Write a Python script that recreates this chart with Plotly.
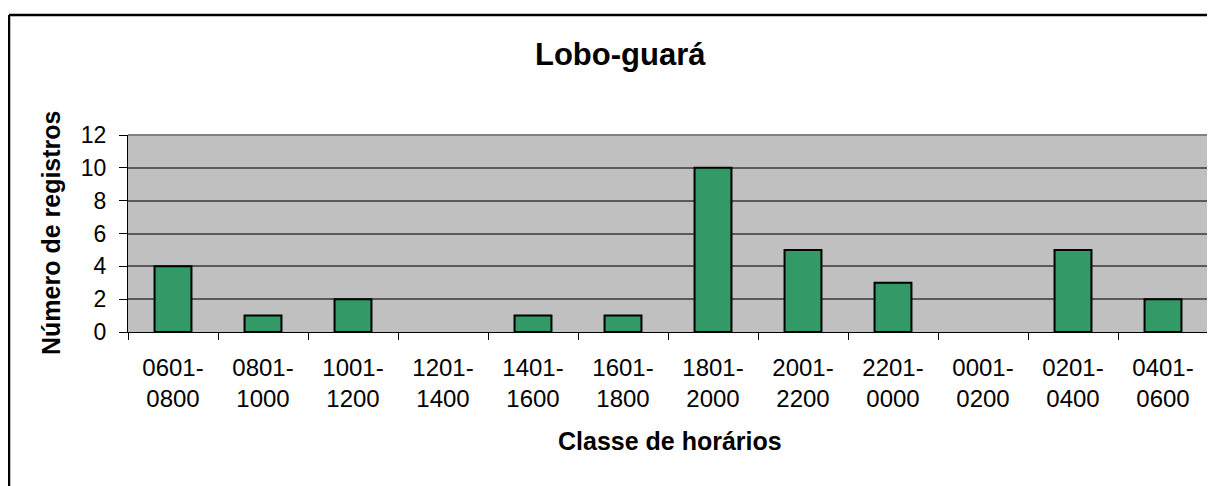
import plotly.graph_objects as go

categories = ["0601-<br>0800", "0801-<br>1000", "1001-<br>1200", "1201-<br>1400",
              "1401-<br>1600", "1601-<br>1800", "1801-<br>2000", "2001-<br>2200",
              "2201-<br>0000", "0001-<br>0200", "0201-<br>0400", "0401-<br>0600"]
registros = [4, 1, 2, 0, 1, 1, 10, 5, 3, 0, 5, 2]
y_ticks = [0, 2, 4, 6, 8, 10, 12]

OFF = 8  # page body margin
W, H = 1215 - OFF, 486 - OFF
# plot area in page coordinates
PL, PR, PT, PB = 128, 1208, 135, 332
L, R, T, B = PL - OFF, PR - OFF, PT - OFF, PB - OFF

px = lambda v: (v - PL) / (PR - PL)   # page x -> paper
py = lambda v: (PB - v) / (PB - PT)   # page y -> paper

fig = go.Figure(go.Bar(
    x=categories, y=registros,
    marker=dict(color="#339966",
                line=dict(color="black", width=[2 if v > 0 else 0 for v in registros])),
    width=0.41,
))

FONT = "Arial, Liberation Sans, sans-serif"
fig.update_layout(
    width=W, height=H,
    margin=dict(l=L, r=W - R, t=T, b=H - B),
    paper_bgcolor="white", plot_bgcolor="#C0C0C0",
    font=dict(family=FONT, color="black", size=24),
    showlegend=False,
    xaxis=dict(
        tickson="boundaries", ticks="outside", ticklen=7, tickcolor="black",
        showline=True, linecolor="black", linewidth=1,
        tickfont=dict(size=24), ticklabelstandoff=14,
        showgrid=False,
    ),
    yaxis=dict(
        range=[0, 12], tickvals=y_ticks, ticks="outside", ticklen=8, tickcolor="black",
        showline=True, linecolor="black", linewidth=1,
        gridcolor="#5a5a5a", gridwidth=2,
        tickfont=dict(size=23), ticklabelstandoff=8,
        zeroline=False,
    ),
)

# title
fig.add_annotation(text="<b>Lobo-guará</b>", xref="paper", yref="paper",
                   x=px(620), y=py(54), xanchor="center", yanchor="middle",
                   showarrow=False, font=dict(size=31, family=FONT))
# axis titles
fig.add_annotation(text="<b>Classe de horários</b>", xref="paper", yref="paper",
                   x=px(670), y=py(441), xanchor="center", yanchor="middle",
                   showarrow=False, font=dict(size=25, family=FONT))
fig.add_annotation(text="<b>Número de registros</b>", xref="paper", yref="paper",
                   x=px(51), y=py(233), xanchor="center", yanchor="middle",
                   textangle=-90, showarrow=False, font=dict(size=25, family=FONT))

# plot area border (gray top and right)
fig.add_shape(type="line", xref="paper", yref="paper", x0=0, x1=1, y0=1, y1=1,
              line=dict(color="#808080", width=2))
fig.add_shape(type="line", xref="paper", yref="paper", x0=1, x1=1, y0=0, y1=1,
              line=dict(color="#808080", width=2))
# chart outer border (top and left)
fig.add_shape(type="line", xref="paper", yref="paper", x0=px(9), x1=px(1230), y0=py(15), y1=py(15),
              line=dict(color="black", width=2.5))
fig.add_shape(type="line", xref="paper", yref="paper", x0=px(9), x1=px(9), y0=py(15), y1=py(500),
              line=dict(color="black", width=2.5))

fig.write_html("out.html")
